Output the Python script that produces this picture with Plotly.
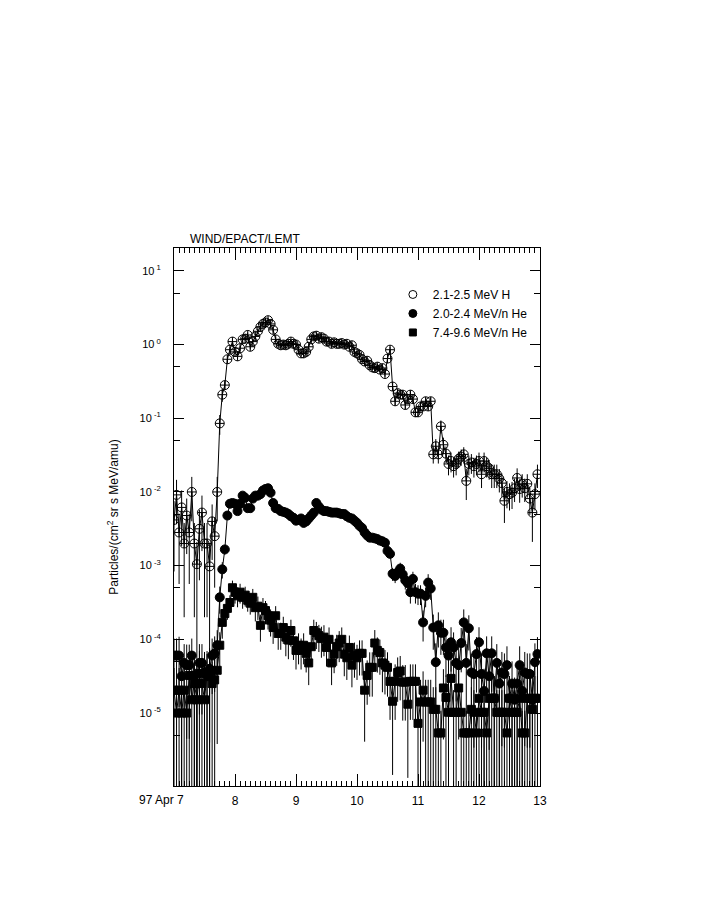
import plotly.graph_objects as go

# ---------------- data ----------------
start_day = 7.0          # 1997 April 7, 00:00 UT ; hourly samples
n_samples = 144

# 2.1-2.5 MeV H : log10 of intensity, hourly
h_log10 = [
    -2.38, -2.04, -2.55, -2.21, -2.70, -2.32, -2.55, -2.00, -2.70, -2.98, -2.50, -2.28,
    -2.70, -2.70, -3.01, -2.40, -2.60, -2.00, -1.07, -0.68, -0.55, -0.20, -0.07, 0.04,
    -0.10, -0.16, -0.05, 0.07, 0.08, 0.13, -0.03, 0.04, 0.11, 0.18, 0.24, 0.28,
    0.30, 0.33, 0.28, 0.20, 0.07, 0.01, -0.01, 0.00, -0.01, 0.01, 0.04, 0.01,
    0.00, -0.07, -0.12, -0.12, -0.10, -0.03, 0.07, 0.11, 0.12, 0.08, 0.10, 0.08,
    0.04, 0.04, 0.01, 0.03, 0.01, 0.01, 0.02, 0.00, 0.01, -0.03, -0.01, -0.10,
    -0.12, -0.14, -0.20, -0.23, -0.22, -0.28, -0.31, -0.32, -0.30, -0.34, -0.32, -0.40,
    -0.19, -0.07, -0.57, -0.77, -0.66, -0.68, -0.68, -0.82, -0.74, -0.68, -0.74, -0.92,
    -0.92, -0.84, -0.84, -0.77, -0.84, -0.77, -1.49, -1.38, -1.49, -1.11, -1.36, -1.48,
    -1.62, -1.58, -1.65, -1.62, -1.55, -1.52, -1.49, -1.85, -1.62, -1.60, -1.65, -1.62,
    -1.58, -1.76, -1.58, -1.65, -1.68, -1.76, -1.76, -1.76, -1.82, -1.88, -2.12, -2.00,
    -2.03, -2.01, -1.95, -1.81, -1.96, -1.89, -1.95, -1.89, -2.09, -2.28, -2.03, -1.76,
]
h_relerr = [
    0.8, 0.6, 0.8, 0.7, 0.9, 0.7, 0.8, 0.6, 0.9, 1.0, 0.8, 0.7,
    0.9, 0.9, 1.0, 0.7, 0.8, 0.6, 0.3, 0.2, 0.12, 0.1, 0.08, 0.08,
    0.08, 0.08, 0.08, 0.08, 0.08, 0.08, 0.08, 0.08, 0.08, 0.08, 0.08, 0.08,
    0.08, 0.08, 0.08, 0.08, 0.08, 0.08, 0.08, 0.08, 0.08, 0.08, 0.08, 0.08,
    0.08, 0.08, 0.08, 0.08, 0.08, 0.08, 0.08, 0.08, 0.08, 0.08, 0.08, 0.08,
    0.08, 0.08, 0.08, 0.08, 0.08, 0.08, 0.08, 0.08, 0.08, 0.08, 0.08, 0.08,
    0.08, 0.08, 0.08, 0.08, 0.08, 0.08, 0.08, 0.08, 0.08, 0.08, 0.08, 0.08,
    0.1, 0.1, 0.12, 0.12, 0.12, 0.12, 0.12, 0.12, 0.12, 0.12, 0.12, 0.12,
    0.12, 0.12, 0.12, 0.12, 0.12, 0.12, 0.25, 0.25, 0.25, 0.2, 0.25, 0.25,
    0.3, 0.3, 0.3, 0.3, 0.25, 0.25, 0.25, 0.45, 0.3, 0.3, 0.3, 0.3,
    0.3, 0.35, 0.3, 0.3, 0.3, 0.35, 0.35, 0.35, 0.35, 0.35, 0.5, 0.4,
    0.4, 0.4, 0.35, 0.35, 0.35, 0.35, 0.35, 0.35, 0.4, 0.6, 0.4, 0.35,
]

# 2.0-2.4 MeV/n He : log10 of intensity, hourly
he_low_log10 = [
    -4.22, -4.22, -4.22, -4.50, -4.32, -4.35, -4.35, -4.22, -4.49, -4.60, -4.32, -4.32,
    -4.45, -4.50, -4.40, -4.22, -4.19, -4.08, -3.43, -3.05, -2.78, -2.32, -2.16, -2.15,
    -2.16, -2.26, -2.16, -2.05, -2.08, -2.22, -2.22, -2.09, -2.05, -2.05, -2.03, -1.98,
    -1.96, -1.95, -2.01, -2.15, -2.22, -2.23, -2.26, -2.27, -2.28, -2.30, -2.33, -2.35,
    -2.39, -2.38, -2.36, -2.42, -2.40, -2.36, -2.32, -2.28, -2.15, -2.20, -2.24, -2.26,
    -2.26, -2.27, -2.28, -2.28, -2.28, -2.29, -2.30, -2.30, -2.33, -2.35, -2.36, -2.39,
    -2.42, -2.46, -2.49, -2.55, -2.59, -2.62, -2.62, -2.63, -2.64, -2.66, -2.67, -2.69,
    -2.80, -2.84, -3.11, -3.14, -3.09, -3.04, -3.12, -3.20, -3.24, -3.36, -3.18, -3.36,
    -3.38, -3.38, -3.77, -3.41, -3.23, -3.31, -3.84, -4.31, -3.81, -3.91, -3.91, -4.11,
    -4.22, -4.04, -4.11, -4.32, -4.35, -4.05, -3.77, -4.32, -3.85, -4.45, -4.47, -4.20,
    -4.04, -4.47, -4.70, -4.19, -4.50, -4.19, -4.80, -4.32, -4.60, -4.45, -4.47, -4.35,
    -4.80, -4.60, -4.82, -4.60, -4.35, -4.70, -4.45, -4.47, -4.47, -4.82, -4.31, -4.20,
]
he_low_relerr = [
    0.7, 0.7, 0.8, 1.0, 0.8, 0.9, 0.9, 0.7, 1.0, 1.0, 0.8, 0.8,
    0.9, 1.0, 0.9, 0.7, 0.7, 0.6, 0.4, 0.25, 0.15, 0.1, 0.08, 0.08,
    0.08, 0.08, 0.08, 0.08, 0.08, 0.08, 0.08, 0.08, 0.08, 0.08, 0.08, 0.08,
    0.08, 0.08, 0.08, 0.08, 0.08, 0.08, 0.08, 0.08, 0.08, 0.08, 0.08, 0.08,
    0.08, 0.08, 0.08, 0.08, 0.08, 0.08, 0.08, 0.08, 0.08, 0.08, 0.08, 0.08,
    0.08, 0.08, 0.08, 0.08, 0.08, 0.08, 0.08, 0.08, 0.08, 0.08, 0.08, 0.08,
    0.1, 0.1, 0.1, 0.1, 0.1, 0.1, 0.1, 0.1, 0.1, 0.1, 0.1, 0.1,
    0.12, 0.12, 0.2, 0.2, 0.2, 0.2, 0.2, 0.25, 0.25, 0.3, 0.25, 0.3,
    0.3, 0.3, 0.45, 0.3, 0.3, 0.3, 0.5, 0.8, 0.5, 0.5, 0.5, 0.6,
    0.7, 0.6, 0.6, 0.7, 0.8, 0.6, 0.5, 0.8, 0.5, 0.8, 0.9, 0.7,
    0.6, 0.9, 1.0, 0.7, 0.9, 0.7, 1.0, 0.8, 1.0, 0.9, 0.9, 0.8,
    1.0, 1.0, 1.0, 1.0, 0.8, 1.0, 0.9, 0.9, 0.9, 1.0, 0.8, 0.7,
]

# 7.4-9.6 MeV/n He : log10 of intensity, hourly
he_high_log10 = [
    -4.69, -5.00, -4.69, -5.00, -4.69, -5.00, -4.49, -4.82, -4.60, -4.82, -4.46, -4.60,
    -4.82, -4.46, -4.46, -4.60, -4.55, -4.42, -4.08, -3.77, -3.65, -3.58, -3.50, -3.30,
    -3.36, -3.41, -3.36, -3.43, -3.40, -3.47, -3.51, -3.43, -3.57, -3.55, -3.81, -3.57,
    -3.61, -3.68, -3.74, -3.84, -3.68, -3.92, -3.92, -3.84, -3.97, -4.01, -3.88, -4.02,
    -4.15, -4.08, -4.15, -4.08, -4.19, -4.32, -4.10, -3.88, -3.91, -3.95, -3.99, -3.97,
    -4.11, -4.00, -4.32, -4.20, -4.10, -4.05, -4.00, -4.20, -4.25, -4.11, -4.35, -4.22,
    -4.25, -4.19, -4.19, -4.69, -4.49, -4.38, -4.38, -4.05, -4.15, -4.18, -4.32, -4.35,
    -4.38, -4.57, -4.84, -4.57, -4.45, -4.43, -4.58, -4.58, -4.88, -4.57, -4.57, -4.57,
    -5.14, -4.85, -4.69, -4.85, -4.85, -4.85, -4.95, -4.95, -5.27, -5.27, -4.66, -4.79,
    -4.99, -4.53, -4.99, -4.99, -4.66, -4.99, -5.27, -5.27, -5.27, -4.95, -4.99, -5.27,
    -4.80, -4.99, -4.99, -5.27, -4.80, -4.80, -4.80, -4.99, -4.99, -4.99, -4.99, -5.27,
    -4.80, -4.99, -4.99, -4.99, -4.80, -5.27, -5.27, -4.80, -4.80, -4.95, -4.80, -4.80,
]
he_high_relerr = [
    1.0, 1.0, 1.0, 1.0, 1.0, 1.0, 1.0, 1.0, 1.0, 1.0, 1.0, 1.0,
    1.0, 1.0, 1.0, 1.0, 1.0, 0.9, 0.5, 0.4, 0.3, 0.3, 0.25, 0.25,
    0.3, 0.3, 0.3, 0.3, 0.3, 0.3, 0.3, 0.3, 0.35, 0.35, 0.4, 0.35,
    0.35, 0.35, 0.4, 0.4, 0.35, 0.4, 0.4, 0.4, 0.45, 0.45, 0.4, 0.45,
    0.45, 0.45, 0.45, 0.45, 0.45, 0.5, 0.45, 0.4, 0.4, 0.4, 0.45, 0.45,
    0.45, 0.45, 0.5, 0.45, 0.45, 0.45, 0.45, 0.5, 0.5, 0.45, 0.5, 0.5,
    0.5, 0.5, 0.5, 0.8, 0.6, 0.6, 0.6, 0.5, 0.5, 0.5, 0.6, 0.6,
    0.6, 0.7, 0.9, 0.7, 0.6, 0.6, 0.7, 0.7, 0.9, 0.7, 0.7, 0.7,
    1.0, 1.0, 0.8, 1.0, 1.0, 1.0, 1.0, 1.0, 1.0, 1.0, 0.8, 1.0,
    1.0, 0.7, 1.0, 1.0, 0.8, 1.0, 1.0, 1.0, 1.0, 1.0, 1.0, 1.0,
    1.0, 1.0, 1.0, 1.0, 1.0, 1.0, 1.0, 1.0, 1.0, 1.0, 1.0, 1.0,
    1.0, 1.0, 1.0, 1.0, 1.0, 1.0, 1.0, 1.0, 1.0, 1.0, 1.0, 1.0,
]

series_names = ["2.1-2.5 MeV H", "2.0-2.4 MeV/n He", "7.4-9.6 MeV/n He"]

x_tick_vals = [7, 8, 9, 10, 11, 12, 13]
x_tick_text = ["", "8", "9", "10", "11", "12", "13"]
first_day_label = "97 Apr 7"
y_tick_vals = [10, 1, 0.1, 0.01, 1e-3, 1e-4, 1e-5]
y_tick_text = ["10<sup> 1</sup>", "10<sup> 0</sup>", "10<sup> -1</sup>", "10<sup> -2</sup>",
               "10<sup> -3</sup>", "10<sup> -4</sup>", "10<sup> -5</sup>"]
y_minor_vals = [5, 0.5, 0.05, 5e-3, 5e-4, 5e-5, 5e-6]

title_text = "WIND/EPACT/LEMT"
y_title = "Particles/(cm<sup>2</sup> sr s MeV/amu)"

# ---------------- figure ----------------
times = [start_day + i / 24.0 for i in range(n_samples)]

FONT = "Liberation Sans, Arial, Helvetica, sans-serif"

fig = go.Figure()

def add_series(logs, relerr, symbol, size, name, rank):
    vals = [10 ** v for v in logs]
    errs = [r * v for r, v in zip(relerr, vals)]
    fig.add_trace(go.Scatter(
        x=times, y=vals, mode="lines+markers",
        line=dict(color="black", width=1),
        marker=dict(symbol=symbol, size=size, color="black",
                    line=dict(color="black", width=1)),
        error_y=dict(type="data", array=errs, visible=True,
                     thickness=1, width=0, color="black"),
        showlegend=False, name=name,
    ))
    # legend key shows the bare symbol only
    fig.add_trace(go.Scatter(
        x=[None], y=[None], mode="markers", name=name, legendrank=rank,
        marker=dict(symbol=symbol.replace("-cross", ""), size=size - 1, color="black",
                    line=dict(color="black", width=1)),
        showlegend=True,
    ))

add_series(he_high_log10, he_high_relerr, "square", 8, series_names[2], 3)
add_series(he_low_log10, he_low_relerr, "circle", 9, series_names[1], 2)
add_series(h_log10, h_relerr, "circle-cross-open", 9, series_names[0], 1)

fig.update_layout(
    width=705, height=913,
    margin=dict(l=174, r=165, t=248, b=127, autoexpand=False),
    paper_bgcolor="white", plot_bgcolor="white",
    font=dict(family=FONT, size=12, color="black"),
    legend=dict(x=0.598, y=0.9406, xanchor="left", yanchor="top",
                bgcolor="rgba(0,0,0,0)", borderwidth=0,
                font=dict(family=FONT, size=12, color="black"),
                itemwidth=30, tracegroupgap=0),
    xaxis=dict(
        range=[7, 13], tickmode="array", tickvals=x_tick_vals, ticktext=x_tick_text,
        ticks="inside", ticklen=12, tickwidth=1, tickcolor="black",
        showline=True, linecolor="black", linewidth=1, mirror="ticks",
        showgrid=False, zeroline=False,
        tickfont=dict(family=FONT, size=12, color="black"),
        ticklabelstandoff=4,
        minor=dict(tick0=7, dtick=1 / 12, ticks="inside", ticklen=5,
                   tickwidth=1, tickcolor="black", showgrid=False),
    ),
    yaxis=dict(
        type="log", range=[-5.99, 1.31], tickmode="array",
        tickvals=y_tick_vals, ticktext=y_tick_text,
        ticks="inside", ticklen=10, tickwidth=1, tickcolor="black",
        showline=True, linecolor="black", linewidth=1, mirror="ticks",
        showgrid=False, zeroline=False,
        tickfont=dict(family=FONT, size=11, color="black"),
        ticklabelstandoff=10,
        minor=dict(tickmode="array", tickvals=y_minor_vals, ticks="inside", ticklen=6,
                   tickwidth=1, tickcolor="black", showgrid=False),
        title=dict(text=y_title, font=dict(family=FONT, size=12, color="black"),
                   standoff=18),
    ),
    annotations=[
        dict(text=title_text, xref="paper", yref="paper", x=(188 - 174) / 366,
             y=1.0 + (248 - 239) / 538, xanchor="left", yanchor="middle",
             showarrow=False, font=dict(family=FONT, size=12, color="black")),
        dict(text=first_day_label, xref="x", yref="paper", x=7, xshift=-13,
             y=0, yshift=-14, xanchor="center", yanchor="middle",
             showarrow=False, font=dict(family=FONT, size=12, color="black")),
    ],
)

fig.write_html("out.html", config={"displayModeBar": False},
               post_script="document.body.style.margin='0px';")
